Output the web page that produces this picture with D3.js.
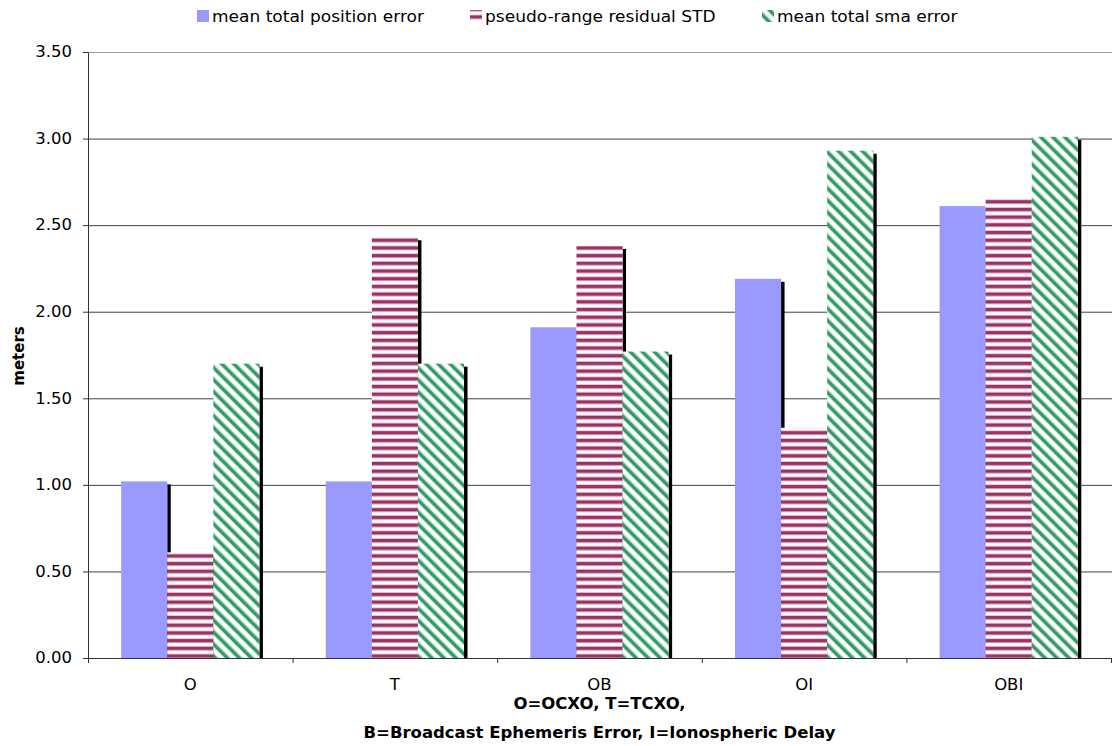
<!DOCTYPE html>
<html><head><meta charset="utf-8">
<script src="https://cdn.jsdelivr.net/npm/d3@7"></script>
<style>
body{margin:0;background:#fff;}
svg{display:block;}
text{font-family:"DejaVu Sans",Verdana,sans-serif;fill:#000;}
</style>
</head><body><svg id="c" width="1112" height="746"></svg>
<script>
const categories = ["O","T","OB","OI","OBI"];
const seriesNames = ["mean total position error","pseudo-range residual STD","mean total sma error"];
const meanTotalPositionError = [1.02,1.02,1.91,2.19,2.61];
const pseudoRangeResidualSTD = [0.61,2.43,2.38,1.33,2.66];
const meanTotalSmaError = [1.70,1.70,1.77,2.93,3.01];
const yTickValues = [0,0.5,1,1.5,2,2.5,3,3.5];
const xTitleLines = ["O=OCXO, T=TCXO,","B=Broadcast Ephemeris Error, I=Ionospheric Delay"];
const yTitle = "meters";

const seriesData = [meanTotalPositionError, pseudoRangeResidualSTD, meanTotalSmaError];
const SX = 1.1;
const SXL = 1.135;
const svg = d3.select("#c");
const m = {left:88, right:1111, top:52, bottom:658};

// patterns
const defs = svg.append("defs");
const pr = defs.append("pattern").attr("id","pr").attr("patternUnits","userSpaceOnUse")
  .attr("width",8).attr("height",7.7);
pr.append("rect").attr("width",8).attr("height",7.7).attr("fill","#fff");
pr.append("rect").attr("y",0).attr("width",8).attr("height",3).attr("fill","#993366");
pr.append("rect").attr("y",3).attr("width",8).attr("height",1).attr("fill","#c98aa9");
pr.append("rect").attr("y",6.7).attr("width",8).attr("height",1).attr("fill","#e6c2d3");
const pg = defs.append("pattern").attr("id","pg").attr("patternUnits","userSpaceOnUse")
  .attr("width",8.5).attr("height",8.5).attr("patternTransform","rotate(-45)");
pg.append("rect").attr("width",8.5).attr("height",8.5).attr("fill","#fff");
pg.append("rect").attr("x",0).attr("width",3.4).attr("height",8.5).attr("fill","#339966");
pg.append("rect").attr("x",3.4).attr("width",0.7).attr("height",8.5).attr("fill","#a8d6bd");
pg.append("rect").attr("x",7.8).attr("width",0.7).attr("height",8.5).attr("fill","#a8d6bd");

const x0 = d3.scaleBand().domain(categories).range([m.left,m.right]).paddingInner(0).paddingOuter(0);
const x1 = d3.scaleBand().domain(seriesNames).range([0,x0.bandwidth()]).paddingInner(0).paddingOuter(0.72);
const y = d3.scaleLinear().domain([0,3.5]).range([m.bottom,m.top]);
const fills = ["#9999ff","url(#pr)","url(#pg)"];

// gridlines
svg.append("g").attr("transform",`translate(${m.left},0)`)
  .call(d3.axisLeft(y).tickValues(yTickValues).tickSize(-(m.right-m.left+1)).tickFormat(""))
  .call(g=>g.select(".domain").remove())
  .call(g=>g.selectAll("line").attr("stroke",d=>d===3.5?"#9a9a9a":"#404040"));

// bars with shadows
seriesNames.forEach((name,s)=>{
  const data = categories.map((c,i)=>({c, v:seriesData[s][i]}));
  const g = svg.append("g");
  g.selectAll("rect.sh").data(data).join("rect").attr("class","sh")
    .attr("x",d=>x0(d.c)+x1(name)+x1.bandwidth())
    .attr("width",3.5)
    .attr("y",d=>y(d.v)+3)
    .attr("height",d=>y(0)-y(d.v)-3)
    .attr("fill","#000");
  g.selectAll("rect.bar").data(data).join("rect").attr("class","bar")
    .attr("x",d=>x0(d.c)+x1(name))
    .attr("width",x1.bandwidth())
    .attr("y",d=>y(d.v))
    .attr("height",d=>y(0)-y(d.v))
    .attr("fill",fills[s]);
});

// y axis
svg.append("g").attr("transform",`translate(${m.left},0)`)
  .call(d3.axisLeft(y).tickValues(yTickValues).tickSizeInner(5).tickSizeOuter(0).tickFormat(d3.format(".2f")))
  .call(g=>g.select(".domain").attr("stroke","#333"))
  .call(g=>g.selectAll("line").attr("stroke","#333"))
  .call(g=>g.selectAll("text").attr("x",-16/SX).attr("transform",`scale(${SX},1)`)
     .style("font-size","15px").attr("fill","#000"));

// x axis boundary ticks
const xb = d3.scaleLinear().domain([0,categories.length]).range([m.left,m.right]);
svg.append("g").attr("transform",`translate(0,${m.bottom})`)
  .call(d3.axisBottom(xb).ticks(categories.length).tickSizeInner(5).tickSizeOuter(0).tickFormat(""))
  .call(g=>g.select(".domain").attr("stroke","#333"))
  .call(g=>g.selectAll("line").attr("stroke","#333"));
// x axis labels
svg.append("g").attr("transform",`translate(0,${m.bottom})`)
  .call(d3.axisBottom(x0).tickSize(0).tickPadding(21.3))
  .call(g=>g.select(".domain").remove())
  .call(g=>g.selectAll("text").attr("transform",`scale(${SX},1)`).style("font-size","15px").attr("fill","#000"));

// titles
const cx = (m.left+m.right)/2;
svg.append("text").attr("transform",`translate(${cx},709) scale(${SX},1)`)
  .attr("text-anchor","middle").style("font-size","15px").style("font-weight","bold").text(xTitleLines[0]);
svg.append("text").attr("transform",`translate(${cx},738) scale(${SX},1)`)
  .attr("text-anchor","middle").style("font-size","15px").style("font-weight","bold").text(xTitleLines[1]);
svg.append("text").attr("transform",`translate(24,356) rotate(-90) scale(1,${SX})`)
  .attr("text-anchor","middle").style("font-size","15px").style("font-weight","bold").text(yTitle);

// legend
const legX = [197,470,762];
const leg = svg.append("g");
seriesNames.forEach((name,s)=>{
  leg.append("rect").attr("x",legX[s]).attr("y",10).attr("width",12).attr("height",12).attr("fill",fills[s]);
  leg.append("text").attr("transform",`translate(${legX[s]+15},22) scale(${SXL},1)`)
    .style("font-size","15px").text(name);
});
</script>
</body></html>
